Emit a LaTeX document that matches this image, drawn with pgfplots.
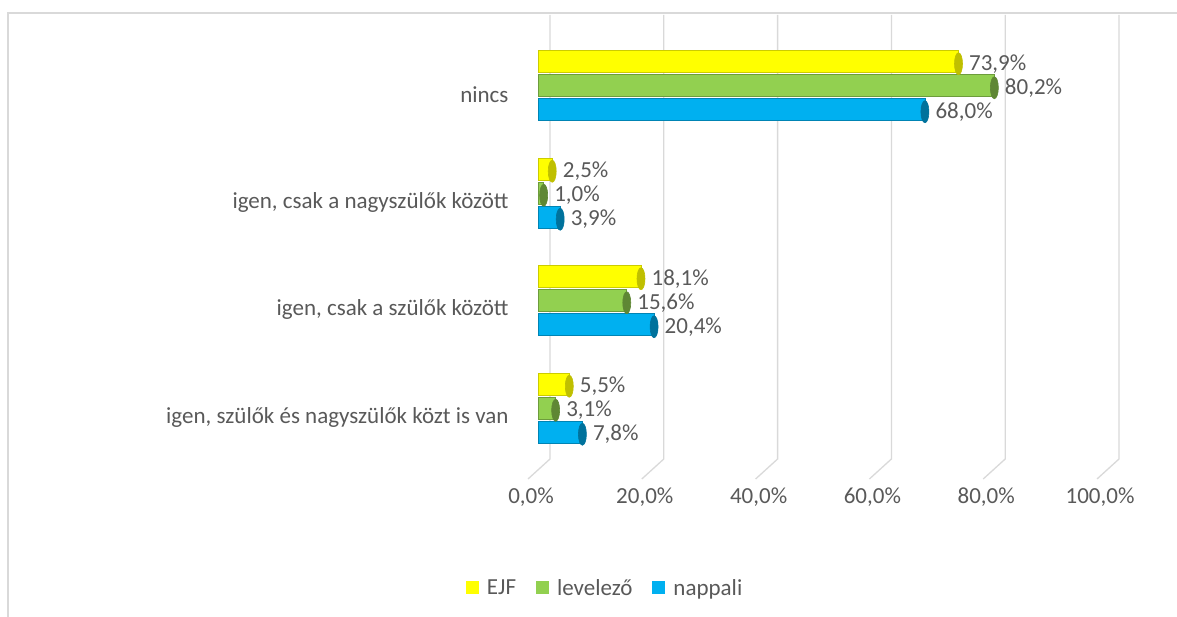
\documentclass[border=0pt]{standalone}
\usepackage{fontspec}
\setmainfont{Carlito}
\usepackage{pgfplots}
\pgfplotsset{compat=1.18}
\definecolor{txt}{HTML}{595959}
\definecolor{gridc}{HTML}{D9D9D9}
\definecolor{cyel}{HTML}{FFFF00}
\definecolor{cgrn}{HTML}{92D050}
\definecolor{cblu}{HTML}{00B0F0}

% cylinder cap drawn at the end of each bar, from the value label node
\pgfplotsset{
    cap/.style={every node near coord/.append style={
        append after command={\pgfextra{\fill[#1] ([xshift=-7bp]\tikzlastnode.west) ellipse [x radius=4bp, y radius=11bp];}}}},
}

\begin{document}
\begin{tikzpicture}[x=1bp,y=1bp,font=\fontsize{23bp}{27bp}\selectfont]
\useasboundingbox (0,0) rectangle (1177,617);
\draw[gridc, line width=1.5bp] (8,0) -- (8,604) -- (1177,604);
\begin{axis}[
    at={(538bp,155bp)}, anchor=south west,
    width=569bp, height=430bp, scale only axis,
    xmin=0, xmax=100, ymin=-0.5, ymax=3.5,
    clip=false,
    axis line style={draw=none}, major tick length=0pt,
    xtick={0,20,40,60,80,100},
    xticklabels={{0,0\%},{20,0\%},{40,0\%},{60,0\%},{80,0\%},{100,0\%}},
    ytick={0,1,2,3},
    yticklabels={{igen, szülők és nagyszülők közt is van},{igen, csak a szülők között},{igen, csak a nagyszülők között},nincs},
    ticklabel style={text=txt},
    xticklabel style={xshift=-7bp, yshift=-22bp},
    yticklabel style={xshift=-26bp, yshift=-9bp},
    xbar, bar width=22bp,
    nodes near coords={\pgfmathprintnumber[fixed,fixed zerofill,precision=1,use comma,assume math mode=true]{\pgfplotspointmeta}\%},
    nodes near coords style={anchor=west, text=txt, xshift=7bp, yshift=-2bp},
    legend style={at={(0.118,-0.293)}, anchor=center, draw=none, fill=none,
        legend columns=3, text=txt,
        /tikz/every odd column/.append style={column sep=6bp},
        /tikz/every even column/.append style={column sep=18bp}},
    legend image code/.code={\fill[#1, draw=none] (0bp,-6bp) rectangle (13bp,7bp);},
]
\pgfplotsinvokeforeach{0,20,40,60,80,100}{
    \draw[gridc, line width=1.3bp] (axis cs:#1,-0.5) ++(-10bp,-17bp) -- ++(22bp,20bp) -- ++(0bp,444bp);
}
\addplot[draw=cyel!80!black, line width=0.6bp, fill=cyel, bar shift=24bp, cap=cyel!75!black]
    coordinates {(5.5,0) (18.1,1) (2.5,2) (73.9,3)};
\addplot[draw=cgrn!75!black, line width=0.6bp, fill=cgrn, bar shift=0bp, cap=cgrn!65!black]
    coordinates {(3.1,0) (15.6,1) (1.0,2) (80.2,3)};
\addplot[draw=cblu!75!black, line width=0.6bp, fill=cblu, bar shift=-24bp, cap=cblu!65!black]
    coordinates {(7.8,0) (20.4,1) (3.9,2) (68.0,3)};
\legend{EJF, levelező, nappali}
\end{axis}
\end{tikzpicture}
\end{document}
